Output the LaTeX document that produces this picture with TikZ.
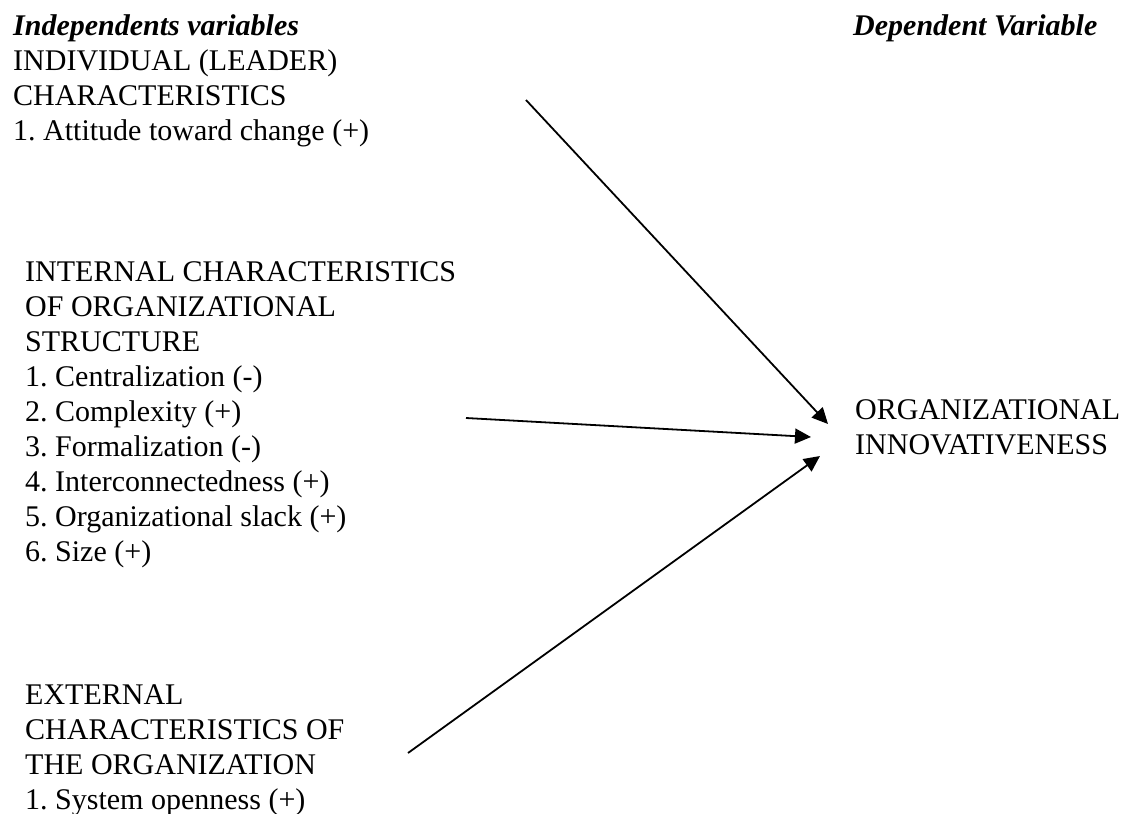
\documentclass[tikz,border=0pt]{standalone}
\usepackage{fontspec}
\setmainfont{Liberation Serif}
\usetikzlibrary{arrows.meta}
\frenchspacing

\tikzset{
  txt/.style={anchor=base west, inner sep=0pt, font=\fontsize{30}{35}\selectfont},
  head/.style={txt, font=\fontsize{30}{35}\selectfont\bfseries\itshape},
  arr/.style={line width=1.8pt, -{Triangle[length=16pt,width=15pt]}}
}

\begin{document}
\begin{tikzpicture}[x=1pt, y=-1pt]
  \useasboundingbox (0,0) rectangle (1122,814);

  % column headings
  \node[head] (indep) at (13,35) {Independents variables};
  \node[head] (dep)   at (853,35) {Dependent Variable};

  % leader characteristics
  \node[txt] (lead1) at (13,70)  {INDIVIDUAL (LEADER)};
  \node[txt] (lead2) at (13,105) {CHARACTERISTICS};
  \node[txt] (lead3) at (13,140) {1. Attitude toward change (+)};

  % internal characteristics of organizational structure
  \node[txt] (int1) at (25,281) {INTERNAL CHARACTERISTICS};
  \node[txt] (int2) at (25,316) {OF ORGANIZATIONAL};
  \node[txt] (int3) at (25,351) {STRUCTURE};
  \node[txt] (int4) at (25,386) {1. Centralization (-)};
  \node[txt] (int5) at (25,421) {2. Complexity (+)};
  \node[txt] (int6) at (25,456) {3. Formalization (-)};
  \node[txt] (int7) at (25,491) {4. Interconnectedness (+)};
  \node[txt] (int8) at (25,526) {5. Organizational slack (+)};
  \node[txt] (int9) at (25,561) {6. Size (+)};

  % external characteristics
  \node[txt] (ext1) at (25,704) {EXTERNAL};
  \node[txt] (ext2) at (25,739) {CHARACTERISTICS OF};
  \node[txt] (ext3) at (25,774) {THE ORGANIZATION};
  \node[txt] (ext4) at (25,809) {1. System openness (+)};

  % outcome
  \node[txt] (org1) at (855,419) {ORGANIZATIONAL};
  \node[txt] (org2) at (855,454) {INNOVATIVENESS};

  % arrow ends
  \coordinate (leadout) at (526,100);
  \coordinate (intout)  at (466,418);
  \coordinate (extout)  at (408,753);
  \coordinate (leadin)  at (828,424);
  \coordinate (intin)   at (811,437);
  \coordinate (extin)   at (820,456);

  \draw[arr] (leadout) -- (leadin);
  \draw[arr] (intout) -- (intin);
  \draw[arr] (extout) -- (extin);
\end{tikzpicture}
\end{document}
